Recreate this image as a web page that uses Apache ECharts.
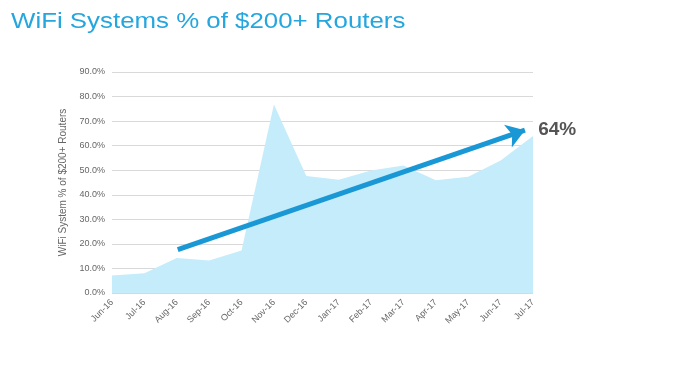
<!DOCTYPE html>
<html>
<head>
<meta charset="utf-8">
<script src="https://cdn.jsdelivr.net/npm/echarts@6/dist/echarts.min.js"></script>
<style>
html,body{margin:0;padding:0;background:#fff;}
#chart{width:674px;height:370px;}
</style>
</head>
<body>
<div id="chart"></div>
<script>
var categories = ['Jun-16','Jul-16','Aug-16','Sep-16','Oct-16','Nov-16','Dec-16','Jan-17','Feb-17','Mar-17','Apr-17','May-17','Jun-17','Jul-17'];
var shareValues = [7.1, 8.0, 14.3, 13.2, 17.3, 76.8, 47.6, 46.1, 49.9, 51.9, 45.9, 47.3, 54.0, 63.9];
var trendStart = [2.03, 17.7];
var trendEnd = [12.75, 66.3];
var trendLabel = '64%';
var titleText = 'WiFi Systems % of $200+ Routers';
var yAxisName = 'WiFi System % of $200+ Routers';

var chart = echarts.init(document.getElementById('chart'));
chart.setOption({
  animation: false,
  graphic: [{
    type: 'text',
    x: 11, y: 11,
    scaleX: 1.175,
    style: {text: titleText, font: 'normal 22px "Liberation Sans"', fill: '#25a6de', textVerticalAlign: 'top'}
  }],
  grid: {left: 112, right: 141, top: 72, bottom: 77},
  xAxis: [{
    type: 'category',
    data: categories,
    boundaryGap: false,
    axisLine: {show: false},
    axisTick: {show: false},
    axisLabel: {rotate: 45, fontSize: 9, color: '#666', fontFamily: 'Liberation Sans', margin: 8, interval: 0}
  }, {
    type: 'value', min: 0, max: 13, show: false
  }],
  yAxis: {
    type: 'value',
    min: 0, max: 90, interval: 10,
    name: yAxisName,
    nameLocation: 'middle',
    nameGap: 43,
    nameTextStyle: {fontSize: 10, color: '#666', fontFamily: 'Liberation Sans'},
    axisLine: {show: false},
    axisTick: {show: false},
    axisLabel: {fontSize: 9, color: '#666', fontFamily: 'Liberation Sans', formatter: function(v){return v.toFixed(1)+'%';}, margin: 7},
    splitLine: {lineStyle: {color: '#d9d9d9', width: 1}}
  },
  series: [{
    type: 'line',
    data: shareValues,
    symbol: 'none',
    lineStyle: {width: 0},
    areaStyle: {color: '#c4ecfb', opacity: 1}
  }, {
    type: 'line',
    xAxisIndex: 1,
    data: [],
    markLine: {
      silent: true,
      symbol: ['none', 'arrow'],
      symbolSize: 18,
      lineStyle: {color: '#1a98d5', width: 5, type: 'solid'},
      label: {
        show: true, position: 'end', formatter: trendLabel,
        fontSize: 19, fontWeight: 'bold', color: '#555', fontFamily: 'Liberation Sans', distance: 14,
        offset: [0, 4]
      },
      data: [[{coord: trendStart}, {coord: trendEnd}]]
    }
  }]
});
</script>
</body>
</html>
